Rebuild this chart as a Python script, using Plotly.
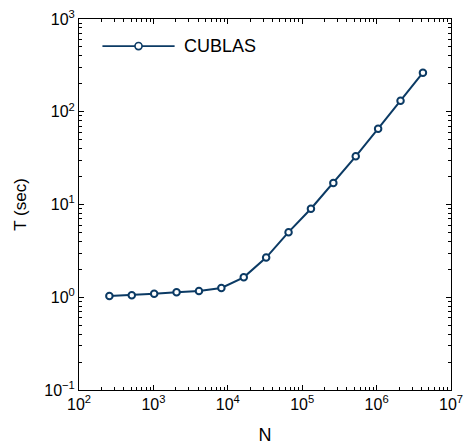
import plotly.graph_objects as go

# Problem size N (powers of two) and CUBLAS run time in seconds
n_values = [256, 512, 1024, 2048, 4096, 8192, 16384, 32768, 65536,
            131072, 262144, 524288, 1048576, 2097152, 4194304]
t_cublas = [1.03, 1.05, 1.09, 1.13, 1.17, 1.26, 1.64, 2.68, 5.03,
            9.0, 17.1, 33.1, 65.6, 131.5, 264.0]

series_name = "CUBLAS"
x_exponents = [2, 3, 4, 5, 6, 7]
y_exponents = [-1, 0, 1, 2, 3]

navy = "#0b3a64"
font_family = "Liberation Sans, Arial, sans-serif"


def decade_ticks(exps):
    vals = [10.0 ** e for e in exps]
    text = [f"10<sup>{e}</sup>".replace("-", "\u2212") for e in exps]
    minor = [m * 10.0 ** e for e in exps[:-1] for m in range(2, 10)]
    return vals, text, minor


fig = go.Figure()
fig.add_trace(go.Scatter(
    x=n_values, y=t_cublas, mode="lines+markers", name=series_name,
    line=dict(color=navy, width=2),
    marker=dict(symbol="circle", size=6.5, color="white",
                line=dict(color=navy, width=2)),
    showlegend=False,
))

axis_common = dict(
    type="log", showgrid=False, zeroline=False, showline=True,
    linecolor="black", linewidth=1, mirror="ticks", ticks="inside",
    ticklen=5, tickcolor="black", automargin=False,
    tickfont=dict(size=16, color="black", family=font_family),
)

xv, xt, xm = decade_ticks(x_exponents)
yv, yt, ym = decade_ticks(y_exponents)

fig.update_xaxes(
    range=[x_exponents[0], x_exponents[-1]], tickvals=xv, ticktext=xt,
    minor=dict(tickvals=xm, ticks="inside", ticklen=3, tickcolor="black",
               showgrid=False),
    title=dict(text="N", standoff=16,
               font=dict(size=18, color="black", family=font_family)),
    **axis_common)
fig.update_yaxes(
    range=[y_exponents[0], y_exponents[-1]], tickvals=yv, ticktext=yt,
    minor=dict(tickvals=ym, ticks="inside", ticklen=3, tickcolor="black",
               showgrid=False),
    title=dict(text="T (sec)", standoff=13,
               font=dict(size=17, color="black", family=font_family)),
    **axis_common)

# Legend entry drawn in the upper-left corner of the axes box
leg_y = 0.927
fig.add_shape(type="line", xref="paper", yref="paper",
              x0=0.063, x1=0.257, y0=leg_y, y1=leg_y,
              line=dict(color=navy, width=1.6))
fig.add_shape(type="circle", xref="paper", yref="paper",
              x0=0.1505, x1=0.1695, y0=leg_y - 0.0095, y1=leg_y + 0.0095,
              fillcolor="white", line=dict(color=navy, width=1.6))
fig.add_annotation(xref="paper", yref="paper", x=0.276, y=leg_y,
                   xanchor="left", yanchor="middle", text=series_name,
                   showarrow=False,
                   font=dict(size=18, color="black", family=font_family))

fig.update_layout(
    width=467, height=446,
    margin=dict(l=79, r=16, t=19, b=56),
    paper_bgcolor="white", plot_bgcolor="white",
    font=dict(family=font_family, color="black"),
    showlegend=False,
)

fig.write_html("out.html")
